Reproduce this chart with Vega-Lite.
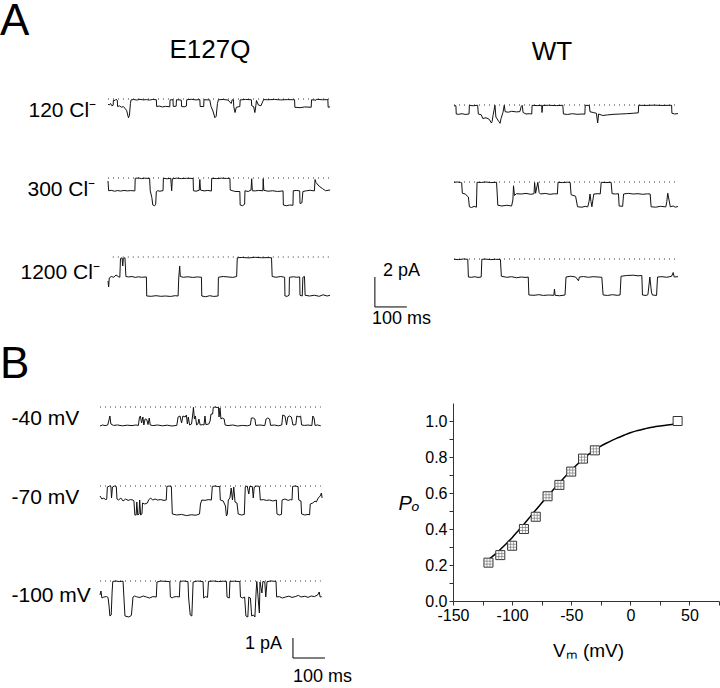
{
"$schema": "https://vega.github.io/schema/vega-lite/v6.json",
"padding": 0,
"spacing": 15,
"config": {"view": {"stroke": null}, "font": "Liberation Sans", "title": {"font": "Liberation Sans", "fontWeight": "normal", "color": "#000"}, "axis": {"labelFont": "Liberation Sans", "titleFont": "Liberation Sans", "titleFontWeight": "normal"}},
"resolve": {"scale": {"x": "independent", "y": "independent"}},
"datasets": {
"E120": [{"t":0,"v":-0.35},{"t":4,"v":-0.4},{"t":8,"v":-0.3},{"t":12,"v":-0.45},{"t":16,"v":-0.42},{"t":17,"v":-0.08},{"t":22,"v":-0.1},{"t":25,"v":-0.02},{"t":29,"v":-0.08},{"t":30,"v":-0.5},{"t":36,"v":-0.46},{"t":42,"v":-0.55},{"t":48,"v":-0.5},{"t":52,"v":-0.6},{"t":58,"v":-0.75},{"t":64,"v":-1.25},{"t":67,"v":-1.1},{"t":70,"v":-0.3},{"t":72,"v":-0.06},{"t":80,"v":-0.03},{"t":90,"v":-0.07},{"t":100,"v":-0.02},{"t":110,"v":-0.06},{"t":120,"v":-0.04},{"t":130,"v":-0.07},{"t":140,"v":-0.03},{"t":151,"v":-0.05},{"t":152,"v":-0.5},{"t":160,"v":-0.47},{"t":170,"v":-0.53},{"t":180,"v":-0.49},{"t":193,"v":-0.52},{"t":194,"v":-0.06},{"t":203,"v":-0.04},{"t":204,"v":-0.5},{"t":213,"v":-0.48},{"t":214,"v":-0.05},{"t":229,"v":-0.07},{"t":230,"v":-0.5},{"t":238,"v":-0.52},{"t":245,"v":-0.47},{"t":246,"v":-0.05},{"t":260,"v":-0.02},{"t":275,"v":-0.06},{"t":287,"v":-0.04},{"t":288,"v":-0.5},{"t":299,"v":-0.5},{"t":300,"v":-0.05},{"t":318,"v":-0.06},{"t":322,"v":-0.5},{"t":328,"v":-0.8},{"t":334,"v":-1.25},{"t":338,"v":-1.15},{"t":342,"v":-0.3},{"t":345,"v":-0.05},{"t":360,"v":-0.03},{"t":375,"v":-0.07},{"t":385,"v":-0.3},{"t":388,"v":-0.05},{"t":392,"v":-0.06},{"t":393,"v":-0.5},{"t":397,"v":-0.9},{"t":401,"v":-0.55},{"t":412,"v":-0.5},{"t":413,"v":-0.06},{"t":430,"v":-0.03},{"t":448,"v":-0.05},{"t":449,"v":-0.45},{"t":455,"v":-0.5},{"t":459,"v":-0.9},{"t":462,"v":-0.45},{"t":464,"v":-0.1},{"t":470,"v":-0.4},{"t":478,"v":-0.45},{"t":484,"v":-0.15},{"t":486,"v":-0.04},{"t":500,"v":-0.05},{"t":520,"v":-0.03},{"t":540,"v":-0.06},{"t":560,"v":-0.04},{"t":583,"v":-0.05},{"t":584,"v":-0.55},{"t":600,"v":-0.58},{"t":615,"v":-0.53},{"t":635,"v":-0.55},{"t":636,"v":-0.05},{"t":650,"v":-0.08},{"t":652,"v":-0.02},{"t":670,"v":-0.05},{"t":687,"v":-0.04},{"t":688,"v":-0.55},{"t":694,"v":-0.52}],
"E300": [{"t":0,"v":-0.2},{"t":2,"v":-0.85},{"t":10,"v":-0.82},{"t":20,"v":-0.88},{"t":30,"v":-0.84},{"t":40,"v":-0.87},{"t":50,"v":-0.83},{"t":60,"v":-0.86},{"t":70,"v":-0.84},{"t":84,"v":-0.86},{"t":85,"v":-0.02},{"t":95,"v":0},{"t":105,"v":-0.04},{"t":115,"v":-0.01},{"t":125,"v":-0.03},{"t":130,"v":-0.02},{"t":132,"v":-0.85},{"t":137,"v":-1.3},{"t":140,"v":-1.8},{"t":146,"v":-1.85},{"t":149,"v":-1.75},{"t":151,"v":-0.9},{"t":155,"v":-0.85},{"t":162,"v":-0.88},{"t":172,"v":-0.84},{"t":173,"v":-0.02},{"t":185,"v":-0.05},{"t":196,"v":-0.02},{"t":199,"v":-0.85},{"t":201,"v":-0.05},{"t":215,"v":-0.01},{"t":230,"v":-0.04},{"t":245,"v":-0.02},{"t":266,"v":-0.03},{"t":267,"v":-0.85},{"t":275,"v":-0.88},{"t":285,"v":-0.82},{"t":287,"v":-0.1},{"t":289,"v":-0.8},{"t":300,"v":-0.86},{"t":312,"v":-0.83},{"t":323,"v":-0.87},{"t":324,"v":-0.02},{"t":340,"v":-0.04},{"t":355,"v":-0.01},{"t":370,"v":-0.03},{"t":381,"v":-0.02},{"t":382,"v":-0.8},{"t":392,"v":-0.87},{"t":400,"v":-0.9},{"t":412,"v":-0.9},{"t":413,"v":-1.8},{"t":420,"v":-1.85},{"t":427,"v":-1.75},{"t":428,"v":-0.85},{"t":438,"v":-0.9},{"t":447,"v":-0.8},{"t":449,"v":-0.05},{"t":451,"v":-0.85},{"t":460,"v":-0.86},{"t":470,"v":-0.83},{"t":484,"v":-0.85},{"t":485,"v":-0.05},{"t":487,"v":-0.82},{"t":500,"v":-0.88},{"t":515,"v":-0.85},{"t":530,"v":-0.9},{"t":547,"v":-0.86},{"t":548,"v":-1.8},{"t":558,"v":-1.85},{"t":568,"v":-1.8},{"t":578,"v":-1.82},{"t":579,"v":-0.85},{"t":590,"v":-0.83},{"t":599,"v":-0.86},{"t":600,"v":-1.7},{"t":606,"v":-1.65},{"t":609,"v":-0.9},{"t":620,"v":-0.85},{"t":632,"v":-0.82},{"t":645,"v":-0.86},{"t":647,"v":-0.1},{"t":650,"v":-0.3},{"t":660,"v":-0.55},{"t":670,"v":-0.7},{"t":680,"v":-0.85},{"t":694,"v":-0.8}],
"E1200": [{"t":0,"v":-1.6},{"t":2,"v":-2.0},{"t":4,"v":-1.4},{"t":10,"v":-1.3},{"t":18,"v":-1.35},{"t":25,"v":-1.2},{"t":32,"v":-1.3},{"t":37,"v":-1.35},{"t":39,"v":-0.1},{"t":44,"v":-0.05},{"t":46,"v":-0.6},{"t":48,"v":-0.1},{"t":53,"v":-0.05},{"t":56,"v":-1.3},{"t":65,"v":-1.33},{"t":75,"v":-1.3},{"t":85,"v":-1.36},{"t":95,"v":-1.32},{"t":105,"v":-1.35},{"t":120,"v":-1.33},{"t":121,"v":-2.6},{"t":135,"v":-2.62},{"t":150,"v":-2.58},{"t":165,"v":-2.62},{"t":180,"v":-2.6},{"t":195,"v":-2.63},{"t":210,"v":-2.58},{"t":219,"v":-2.6},{"t":221,"v":-1.4},{"t":224,"v":-0.6},{"t":226,"v":-1.3},{"t":235,"v":-1.35},{"t":250,"v":-1.32},{"t":265,"v":-1.36},{"t":280,"v":-1.33},{"t":292,"v":-1.35},{"t":293,"v":-2.6},{"t":305,"v":-2.65},{"t":318,"v":-2.58},{"t":330,"v":-2.63},{"t":344,"v":-2.6},{"t":345,"v":-1.35},{"t":360,"v":-1.3},{"t":375,"v":-1.33},{"t":390,"v":-1.36},{"t":402,"v":-1.3},{"t":404,"v":-0.05},{"t":420,"v":-0.03},{"t":440,"v":-0.06},{"t":460,"v":-0.02},{"t":480,"v":-0.05},{"t":500,"v":-0.04},{"t":511,"v":-0.05},{"t":513,"v":-1.3},{"t":525,"v":-1.35},{"t":540,"v":-1.3},{"t":552,"v":-1.35},{"t":553,"v":-2.6},{"t":560,"v":-2.62},{"t":566,"v":-2.55},{"t":567,"v":-1.35},{"t":580,"v":-1.32},{"t":590,"v":-1.35},{"t":599,"v":-1.33},{"t":600,"v":-2.55},{"t":607,"v":-2.6},{"t":609,"v":-1.35},{"t":614,"v":-1.3},{"t":616,"v":-2.55},{"t":630,"v":-2.6},{"t":645,"v":-2.55},{"t":660,"v":-2.62},{"t":672,"v":-2.52},{"t":685,"v":-2.6},{"t":694,"v":-2.55}],
"W120": [{"t":0,"v":-0.05},{"t":6,"v":-0.05},{"t":7,"v":-0.6},{"t":15,"v":-0.62},{"t":25,"v":-0.58},{"t":35,"v":-0.63},{"t":47,"v":-0.6},{"t":48,"v":-0.02},{"t":60,"v":-0.05},{"t":74,"v":-0.02},{"t":76,"v":-0.6},{"t":85,"v":-0.65},{"t":90,"v":-0.9},{"t":100,"v":-0.85},{"t":110,"v":-0.95},{"t":117,"v":-1.2},{"t":119,"v":-1.1},{"t":122,"v":-0.7},{"t":128,"v":-0.02},{"t":131,"v":-0.8},{"t":140,"v":-1.1},{"t":144,"v":-1.22},{"t":147,"v":-0.9},{"t":153,"v":-0.5},{"t":157,"v":-0.02},{"t":160,"v":-0.45},{"t":170,"v":-0.48},{"t":180,"v":-0.42},{"t":195,"v":-0.46},{"t":206,"v":-0.44},{"t":210,"v":-0.1},{"t":213,"v":-0.02},{"t":216,"v":-0.5},{"t":225,"v":-0.6},{"t":235,"v":-0.58},{"t":243,"v":-0.6},{"t":244,"v":-0.02},{"t":260,"v":-0.04},{"t":274,"v":-0.02},{"t":275,"v":-0.5},{"t":277,"v":-0.03},{"t":295,"v":-0.02},{"t":320,"v":-0.04},{"t":340,"v":-0.02},{"t":342,"v":-0.6},{"t":355,"v":-0.63},{"t":370,"v":-0.58},{"t":385,"v":-0.62},{"t":400,"v":-0.6},{"t":409,"v":-0.61},{"t":410,"v":-0.02},{"t":423,"v":-0.03},{"t":425,"v":-0.45},{"t":435,"v":-0.5},{"t":445,"v":-0.55},{"t":449,"v":-1.2},{"t":452,"v":-0.6},{"t":465,"v":-0.7},{"t":480,"v":-0.66},{"t":500,"v":-0.62},{"t":520,"v":-0.6},{"t":540,"v":-0.58},{"t":560,"v":-0.55},{"t":576,"v":-0.52},{"t":577,"v":-0.02},{"t":600,"v":-0.03},{"t":625,"v":-0.01},{"t":650,"v":-0.03},{"t":680,"v":-0.02},{"t":681,"v":-0.55},{"t":690,"v":-0.6},{"t":700,"v":-0.57}],
"W300": [{"t":0,"v":-0.02},{"t":10,"v":0},{"t":20,"v":-0.03},{"t":24,"v":-0.05},{"t":26,"v":-0.75},{"t":35,"v":-0.8},{"t":45,"v":-1.0},{"t":48,"v":-1.65},{"t":55,"v":-1.7},{"t":63,"v":-1.62},{"t":70,"v":-1.68},{"t":72,"v":-0.02},{"t":85,"v":-0.03},{"t":100,"v":0},{"t":115,"v":-0.04},{"t":133,"v":-0.02},{"t":137,"v":-1.55},{"t":150,"v":-1.6},{"t":165,"v":-1.55},{"t":180,"v":-1.6},{"t":184,"v":-1.2},{"t":186,"v":-0.25},{"t":189,"v":-0.9},{"t":195,"v":-0.78},{"t":210,"v":-0.8},{"t":225,"v":-0.76},{"t":240,"v":-0.82},{"t":250,"v":-0.78},{"t":252,"v":-0.05},{"t":255,"v":-0.75},{"t":262,"v":-0.02},{"t":266,"v":-0.7},{"t":270,"v":-0.8},{"t":285,"v":-0.76},{"t":300,"v":-0.82},{"t":315,"v":-0.78},{"t":323,"v":-0.8},{"t":325,"v":-0.02},{"t":340,"v":-0.04},{"t":355,"v":-0.01},{"t":363,"v":-0.03},{"t":366,"v":-0.85},{"t":380,"v":-0.95},{"t":386,"v":-1.65},{"t":400,"v":-1.68},{"t":410,"v":-1.62},{"t":418,"v":-1.66},{"t":422,"v":-1.3},{"t":425,"v":-0.8},{"t":428,"v":-1.3},{"t":431,"v":-1.65},{"t":434,"v":-1.2},{"t":437,"v":-0.8},{"t":450,"v":-0.78},{"t":457,"v":-0.8},{"t":460,"v":-0.02},{"t":475,"v":-0.04},{"t":491,"v":-0.02},{"t":494,"v":-0.78},{"t":505,"v":-0.8},{"t":514,"v":-0.78},{"t":516,"v":-1.6},{"t":527,"v":-1.62},{"t":530,"v":-0.8},{"t":545,"v":-0.76},{"t":560,"v":-0.8},{"t":575,"v":-0.78},{"t":590,"v":-0.82},{"t":605,"v":-0.79},{"t":613,"v":-0.8},{"t":616,"v":-1.65},{"t":630,"v":-1.68},{"t":645,"v":-1.62},{"t":662,"v":-1.66},{"t":665,"v":-1.3},{"t":668,"v":-0.75},{"t":672,"v":-1.2},{"t":676,"v":-1.65},{"t":685,"v":-1.6},{"t":692,"v":-1.68},{"t":700,"v":-1.63}],
"W1200": [{"t":0,"v":-0.02},{"t":15,"v":-0.04},{"t":30,"v":0},{"t":43,"v":-0.02},{"t":45,"v":-1.2},{"t":55,"v":-1.22},{"t":65,"v":-1.18},{"t":75,"v":-1.23},{"t":85,"v":-1.2},{"t":87,"v":-0.02},{"t":100,"v":-0.01},{"t":115,"v":-0.04},{"t":130,"v":-0.02},{"t":145,"v":-0.03},{"t":148,"v":-1.15},{"t":165,"v":-1.22},{"t":180,"v":-1.18},{"t":195,"v":-1.25},{"t":210,"v":-1.2},{"t":225,"v":-1.23},{"t":232,"v":-1.2},{"t":234,"v":-2.4},{"t":250,"v":-2.42},{"t":265,"v":-2.38},{"t":280,"v":-2.43},{"t":295,"v":-2.4},{"t":312,"v":-2.42},{"t":314,"v":-2.0},{"t":316,"v":-2.42},{"t":330,"v":-2.45},{"t":347,"v":-2.4},{"t":350,"v":-1.2},{"t":365,"v":-1.15},{"t":380,"v":-1.2},{"t":389,"v":-1.45},{"t":392,"v":-1.2},{"t":405,"v":-1.17},{"t":420,"v":-1.22},{"t":435,"v":-1.18},{"t":450,"v":-1.2},{"t":462,"v":-1.22},{"t":466,"v":-2.4},{"t":480,"v":-2.43},{"t":495,"v":-2.38},{"t":510,"v":-2.42},{"t":519,"v":-2.4},{"t":522,"v":-1.15},{"t":540,"v":-1.1},{"t":560,"v":-1.08},{"t":575,"v":-1.12},{"t":587,"v":-1.1},{"t":589,"v":-2.4},{"t":600,"v":-2.43},{"t":606,"v":-2.38},{"t":609,"v":-1.8},{"t":612,"v":-1.2},{"t":617,"v":-2.2},{"t":620,"v":-2.4},{"t":633,"v":-2.43},{"t":636,"v":-1.2},{"t":650,"v":-1.18},{"t":665,"v":-1.22},{"t":680,"v":-1.15},{"t":685,"v":-0.9},{"t":688,"v":-1.2},{"t":700,"v":-1.18}],
"B40": [{"t":0,"v":-0.95},{"t":8,"v":-0.9},{"t":16,"v":-0.93},{"t":24,"v":-0.9},{"t":29,"v":-0.6},{"t":31,"v":-0.45},{"t":34,"v":-0.85},{"t":42,"v":-0.92},{"t":55,"v":-0.9},{"t":70,"v":-0.94},{"t":85,"v":-0.91},{"t":100,"v":-0.93},{"t":112,"v":-0.9},{"t":120,"v":-0.92},{"t":123,"v":-0.55},{"t":126,"v":-0.45},{"t":130,"v":-0.8},{"t":134,"v":-0.5},{"t":137,"v":-0.9},{"t":141,"v":-0.6},{"t":146,"v":-0.62},{"t":150,"v":-0.88},{"t":154,"v":-0.55},{"t":157,"v":-0.9},{"t":165,"v":-0.93},{"t":180,"v":-0.9},{"t":195,"v":-0.94},{"t":210,"v":-0.91},{"t":225,"v":-0.95},{"t":240,"v":-0.92},{"t":244,"v":-0.5},{"t":250,"v":-0.45},{"t":255,"v":-0.8},{"t":259,"v":-0.45},{"t":266,"v":-0.5},{"t":270,"v":-0.4},{"t":273,"v":-0.85},{"t":276,"v":-0.5},{"t":280,"v":-0.9},{"t":286,"v":-0.85},{"t":290,"v":-0.35},{"t":292,"v":-0.02},{"t":295,"v":-0.6},{"t":298,"v":-0.45},{"t":302,"v":-0.9},{"t":306,"v":-0.85},{"t":309,"v":-0.6},{"t":313,"v":-0.9},{"t":320,"v":-0.88},{"t":325,"v":-0.9},{"t":328,"v":-0.45},{"t":331,"v":-0.88},{"t":340,"v":-0.85},{"t":344,"v":-0.7},{"t":347,"v":-0.35},{"t":352,"v":-0.35},{"t":354,"v":-0.02},{"t":360,"v":0},{"t":366,"v":-0.03},{"t":370,"v":0},{"t":372,"v":-0.5},{"t":375,"v":-0.05},{"t":378,"v":-0.6},{"t":382,"v":-0.55},{"t":388,"v":-0.6},{"t":391,"v":-0.9},{"t":400,"v":-0.93},{"t":415,"v":-0.9},{"t":430,"v":-0.95},{"t":445,"v":-0.92},{"t":460,"v":-0.94},{"t":470,"v":-0.9},{"t":473,"v":-0.55},{"t":479,"v":-0.55},{"t":484,"v":-0.6},{"t":487,"v":-0.92},{"t":500,"v":-0.9},{"t":515,"v":-0.93},{"t":519,"v":-0.6},{"t":524,"v":-0.55},{"t":530,"v":-0.6},{"t":533,"v":-0.92},{"t":545,"v":-0.9},{"t":558,"v":-0.94},{"t":568,"v":-0.9},{"t":571,"v":-0.4},{"t":578,"v":-0.45},{"t":583,"v":-0.9},{"t":587,"v":-0.5},{"t":592,"v":-0.45},{"t":598,"v":-0.5},{"t":603,"v":-0.9},{"t":612,"v":-0.88},{"t":615,"v":-0.45},{"t":622,"v":-0.5},{"t":627,"v":-0.45},{"t":630,"v":-0.9},{"t":640,"v":-0.92},{"t":650,"v":-0.9},{"t":662,"v":-0.93},{"t":665,"v":-0.45},{"t":669,"v":-0.55},{"t":672,"v":-0.92},{"t":680,"v":-0.9},{"t":690,"v":-0.94}],
"B70": [{"t":0,"v":-0.5},{"t":6,"v":-0.65},{"t":12,"v":-0.6},{"t":18,"v":-0.7},{"t":21,"v":-0.65},{"t":23,"v":-0.05},{"t":30,"v":0},{"t":34,"v":-0.02},{"t":36,"v":-0.6},{"t":39,"v":-0.05},{"t":45,"v":0},{"t":51,"v":-0.03},{"t":53,"v":-0.65},{"t":58,"v":-0.7},{"t":65,"v":-0.6},{"t":72,"v":-0.75},{"t":80,"v":-0.65},{"t":88,"v":-0.72},{"t":95,"v":-0.68},{"t":103,"v":-0.7},{"t":106,"v":-0.75},{"t":109,"v":-1.45},{"t":113,"v":-1.45},{"t":115,"v":-0.8},{"t":118,"v":-1.45},{"t":122,"v":-1.4},{"t":124,"v":-0.7},{"t":127,"v":-1.45},{"t":131,"v":-1.4},{"t":133,"v":-0.85},{"t":140,"v":-0.9},{"t":148,"v":-0.85},{"t":152,"v":-0.7},{"t":158,"v":-0.6},{"t":165,"v":-0.7},{"t":172,"v":-0.65},{"t":180,"v":-0.7},{"t":190,"v":-0.68},{"t":200,"v":-0.72},{"t":207,"v":-0.7},{"t":209,"v":-0.02},{"t":216,"v":0},{"t":223,"v":-0.03},{"t":226,"v":-1.4},{"t":240,"v":-1.45},{"t":255,"v":-1.42},{"t":270,"v":-1.48},{"t":285,"v":-1.44},{"t":300,"v":-1.46},{"t":311,"v":-1.4},{"t":314,"v":-0.9},{"t":318,"v":-0.7},{"t":328,"v":-0.72},{"t":338,"v":-0.68},{"t":348,"v":-0.7},{"t":351,"v":-0.02},{"t":360,"v":0},{"t":368,"v":-0.03},{"t":374,"v":-0.02},{"t":376,"v":-0.7},{"t":385,"v":-0.75},{"t":392,"v":-1.0},{"t":395,"v":-1.5},{"t":398,"v":-1.4},{"t":401,"v":-0.7},{"t":406,"v":-0.6},{"t":410,"v":-0.1},{"t":414,"v":-0.7},{"t":418,"v":-0.05},{"t":422,"v":-0.8},{"t":428,"v":-0.85},{"t":432,"v":-1.4},{"t":442,"v":-1.45},{"t":451,"v":-1.42},{"t":454,"v":-0.05},{"t":460,"v":0},{"t":465,"v":-0.4},{"t":468,"v":-0.02},{"t":476,"v":-0.03},{"t":479,"v":-0.6},{"t":482,"v":-0.05},{"t":490,"v":0},{"t":498,"v":-0.02},{"t":501,"v":-0.7},{"t":510,"v":-0.68},{"t":520,"v":-0.72},{"t":530,"v":-0.7},{"t":540,"v":-0.75},{"t":551,"v":-0.7},{"t":553,"v":-1.4},{"t":560,"v":-1.45},{"t":567,"v":-1.42},{"t":569,"v":-0.7},{"t":578,"v":-0.65},{"t":588,"v":-0.72},{"t":595,"v":-0.68},{"t":600,"v":-0.7},{"t":602,"v":-0.02},{"t":610,"v":0},{"t":619,"v":-0.03},{"t":621,"v":-0.7},{"t":628,"v":-0.75},{"t":630,"v":-1.4},{"t":640,"v":-1.45},{"t":650,"v":-1.42},{"t":655,"v":-1.44},{"t":657,"v":-0.9},{"t":665,"v":-0.85},{"t":672,"v":-0.75},{"t":676,"v":-0.8},{"t":682,"v":-0.6},{"t":688,"v":-0.5},{"t":692,"v":-0.35},{"t":694,"v":-0.6}],
"B100": [{"t":0,"v":-0.7},{"t":3,"v":-0.5},{"t":6,"v":-0.85},{"t":12,"v":-0.8},{"t":20,"v":-0.78},{"t":25,"v":-0.82},{"t":28,"v":-1.2},{"t":31,"v":-1.75},{"t":35,"v":-1.7},{"t":38,"v":-0.5},{"t":40,"v":-0.02},{"t":50,"v":0},{"t":60,"v":-0.03},{"t":72,"v":-0.01},{"t":75,"v":-0.9},{"t":78,"v":-1.75},{"t":90,"v":-1.8},{"t":98,"v":-1.72},{"t":101,"v":-1.2},{"t":103,"v":-0.8},{"t":108,"v":-0.75},{"t":113,"v":-0.78},{"t":116,"v":-0.8},{"t":125,"v":-0.82},{"t":135,"v":-0.75},{"t":145,"v":-0.8},{"t":155,"v":-0.85},{"t":165,"v":-0.78},{"t":176,"v":-0.8},{"t":178,"v":-0.05},{"t":190,"v":0},{"t":205,"v":-0.02},{"t":218,"v":-0.03},{"t":220,"v":-0.8},{"t":226,"v":-0.85},{"t":229,"v":-0.8},{"t":240,"v":-0.78},{"t":248,"v":-0.8},{"t":250,"v":-0.02},{"t":262,"v":0},{"t":275,"v":-0.03},{"t":277,"v":-0.85},{"t":282,"v":-1.7},{"t":287,"v":-1.75},{"t":289,"v":-0.9},{"t":291,"v":-0.05},{"t":305,"v":0},{"t":322,"v":-0.03},{"t":324,"v":-0.85},{"t":330,"v":-0.78},{"t":336,"v":-0.82},{"t":339,"v":-0.02},{"t":355,"v":0},{"t":370,"v":-0.03},{"t":385,"v":-0.01},{"t":395,"v":-0.02},{"t":397,"v":-0.8},{"t":404,"v":-0.85},{"t":406,"v":-0.02},{"t":420,"v":-0.01},{"t":437,"v":-0.03},{"t":439,"v":-0.8},{"t":446,"v":-0.85},{"t":452,"v":-0.8},{"t":456,"v":-1.75},{"t":462,"v":-1.8},{"t":465,"v":-0.8},{"t":470,"v":-0.85},{"t":474,"v":-1.75},{"t":480,"v":-1.7},{"t":484,"v":-1.8},{"t":488,"v":-0.5},{"t":490,"v":-0.02},{"t":495,"v":-1.0},{"t":498,"v":-1.6},{"t":500,"v":-0.05},{"t":506,"v":-0.6},{"t":509,"v":-0.02},{"t":515,"v":-0.05},{"t":518,"v":-0.8},{"t":522,"v":-0.03},{"t":535,"v":0},{"t":550,"v":-0.02},{"t":552,"v":-0.8},{"t":560,"v":-0.78},{"t":570,"v":-0.85},{"t":580,"v":-0.8},{"t":590,"v":-0.76},{"t":600,"v":-0.82},{"t":610,"v":-0.78},{"t":620,"v":-0.72},{"t":628,"v":-0.8},{"t":640,"v":-0.76},{"t":650,"v":-0.82},{"t":660,"v":-0.75},{"t":670,"v":-0.78},{"t":680,"v":-0.7},{"t":685,"v":-0.55},{"t":688,"v":-0.8},{"t":693,"v":-0.78}],
"po": [{"V":-120,"Po":0.213},{"V":-110,"Po":0.255},{"V":-100,"Po":0.307},{"V":-90,"Po":0.4},{"V":-80,"Po":0.468},{"V":-70,"Po":0.582},{"V":-60,"Po":0.645},{"V":-50,"Po":0.719},{"V":-40,"Po":0.791},{"V":-30,"Po":0.837},{"V":40,"Po":1.0}],
"fit": [{"V":-120,"Po":0.23},{"V":-115,"Po":0.256},{"V":-110,"Po":0.286},{"V":-105,"Po":0.318},{"V":-100,"Po":0.352},{"V":-95,"Po":0.389},{"V":-90,"Po":0.427},{"V":-85,"Po":0.466},{"V":-80,"Po":0.505},{"V":-75,"Po":0.544},{"V":-70,"Po":0.582},{"V":-65,"Po":0.619},{"V":-60,"Po":0.655},{"V":-55,"Po":0.692},{"V":-50,"Po":0.726},{"V":-45,"Po":0.758},{"V":-40,"Po":0.79},{"V":-35,"Po":0.816},{"V":-30,"Po":0.84},{"V":-25,"Po":0.86},{"V":-20,"Po":0.878},{"V":-15,"Po":0.894},{"V":-10,"Po":0.908},{"V":-5,"Po":0.922},{"V":0,"Po":0.935},{"V":5,"Po":0.945},{"V":10,"Po":0.953},{"V":15,"Po":0.961},{"V":20,"Po":0.967},{"V":25,"Po":0.972},{"V":30,"Po":0.977},{"V":35,"Po":0.981},{"V":40,"Po":0.985}]
},
"vconcat": [
{
"title": {"text": "A", "anchor": "start", "frame": "group", "fontSize": 44, "baseline": "top", "offset": -7, "dx": -100},
"spacing": 21,
"resolve": {"scale": {"x": "independent", "y": "independent"}},
"hconcat": [
{
"bounds": "flush",
"spacing": 34,
"resolve": {"scale": {"x": "independent", "y": "independent"}},
"vconcat": [
{
"width": 224, "height": 45,
"title": {"text": "E127Q", "fontSize": 26, "anchor": "middle", "frame": "group", "baseline": "middle", "offset": 17, "dx": -2},
"encoding": {
"x": {"field": "t", "type": "quantitative", "scale": {"domain": [-25, 675], "nice": false, "zero": false}, "axis": null},
"y": {"field": "v", "type": "quantitative", "scale": {"domain": [-2.6, 0.4], "nice": false, "zero": false}, "axis": {"domain": false, "ticks": false, "labels": false, "grid": false, "title": "120 Cl⁻", "titleAngle": 0, "titleAlign": "left", "titleBaseline": "middle", "titleX": -72, "titleY": 17, "titleFontSize": 21, "titleColor": "#000"}}
},
"layer": [
{"data": {"values": [{"t": 0, "t2": 695, "v": 0}]}, "mark": {"type": "rule", "strokeDash": [1, 4], "color": "#333", "strokeWidth": 1}, "encoding": {"x2": {"field": "t2"}}},
{"data": {"name": "E120"}, "mark": {"type": "line", "color": "#111", "strokeWidth": 1}}
]
},
{
"width": 224, "height": 45,
"encoding": {
"x": {"field": "t", "type": "quantitative", "scale": {"domain": [-25, 675], "nice": false, "zero": false}, "axis": null},
"y": {"field": "v", "type": "quantitative", "scale": {"domain": [-2.6, 0.4], "nice": false, "zero": false}, "axis": {"domain": false, "ticks": false, "labels": false, "grid": false, "title": "300 Cl⁻", "titleAngle": 0, "titleAlign": "left", "titleBaseline": "middle", "titleX": -73, "titleY": 17, "titleFontSize": 21, "titleColor": "#000"}}
},
"layer": [
{"data": {"values": [{"t": 0, "t2": 695, "v": 0}]}, "mark": {"type": "rule", "strokeDash": [1, 4], "color": "#333", "strokeWidth": 1}, "encoding": {"x2": {"field": "t2"}}},
{"data": {"name": "E300"}, "mark": {"type": "line", "color": "#111", "strokeWidth": 1}}
]
},
{
"width": 224, "height": 45,
"encoding": {
"x": {"field": "t", "type": "quantitative", "scale": {"domain": [-25, 675], "nice": false, "zero": false}, "axis": null},
"y": {"field": "v", "type": "quantitative", "scale": {"domain": [-2.6, 0.4], "nice": false, "zero": false}, "axis": {"domain": false, "ticks": false, "labels": false, "grid": false, "title": "1200 Cl⁻", "titleAngle": 0, "titleAlign": "left", "titleBaseline": "middle", "titleX": -80, "titleY": 21, "titleFontSize": 21, "titleColor": "#000"}}
},
"layer": [
{"data": {"values": [{"t": 15, "t2": 700, "v": 0}]}, "mark": {"type": "rule", "strokeDash": [1, 4], "color": "#333", "strokeWidth": 1}, "encoding": {"x2": {"field": "t2"}}},
{"data": {"name": "E1200"}, "mark": {"type": "line", "color": "#111", "strokeWidth": 1}},
{"data": {"values": [{"t": 834, "v": -1.33, "o": 1}, {"t": 834, "v": -3.33, "o": 2}, {"t": 934, "v": -3.33, "o": 3}]}, "mark": {"type": "line", "color": "#000", "strokeWidth": 1}, "encoding": {"order": {"field": "o", "type": "quantitative"}}},
{"data": {"values": [{"t": 834, "v": -1.33}]}, "mark": {"type": "text", "text": "2 pA", "font": "Liberation Sans", "fontSize": 18, "align": "left", "baseline": "middle", "dx": 8, "dy": -6, "color": "#000"}},
{"data": {"values": [{"t": 834, "v": -3.33}]}, "mark": {"type": "text", "text": "100 ms", "font": "Liberation Sans", "fontSize": 18, "align": "left", "baseline": "middle", "dx": -3, "dy": 12, "color": "#000"}}
]
}
]
},
{
"bounds": "flush",
"spacing": 29,
"resolve": {"scale": {"x": "independent", "y": "independent"}},
"vconcat": [
{
"width": 224, "height": 48,
"title": {"text": "WT", "fontSize": 26, "anchor": "middle", "frame": "group", "baseline": "middle", "offset": 15, "dx": -14},
"encoding": {
"x": {"field": "t", "type": "quantitative", "scale": {"domain": [0, 700], "nice": false, "zero": false}, "axis": null},
"y": {"field": "v", "type": "quantitative", "scale": {"domain": [-2.4, 0.8], "nice": false, "zero": false}, "axis": null}
},
"layer": [
{"data": {"values": [{"t": 0, "t2": 700, "v": 0}]}, "mark": {"type": "rule", "strokeDash": [1, 4], "color": "#333", "strokeWidth": 1}, "encoding": {"x2": {"field": "t2"}}},
{"data": {"name": "W120"}, "mark": {"type": "line", "color": "#111", "strokeWidth": 1}}
]
},
{
"width": 224, "height": 48,
"encoding": {
"x": {"field": "t", "type": "quantitative", "scale": {"domain": [0, 700], "nice": false, "zero": false}, "axis": null},
"y": {"field": "v", "type": "quantitative", "scale": {"domain": [-2.4, 0.8], "nice": false, "zero": false}, "axis": null}
},
"layer": [
{"data": {"values": [{"t": 0, "t2": 700, "v": 0}]}, "mark": {"type": "rule", "strokeDash": [1, 4], "color": "#333", "strokeWidth": 1}, "encoding": {"x2": {"field": "t2"}}},
{"data": {"name": "W300"}, "mark": {"type": "line", "color": "#111", "strokeWidth": 1}}
]
},
{
"width": 224, "height": 48,
"encoding": {
"x": {"field": "t", "type": "quantitative", "scale": {"domain": [0, 700], "nice": false, "zero": false}, "axis": null},
"y": {"field": "v", "type": "quantitative", "scale": {"domain": [-2.4, 0.8], "nice": false, "zero": false}, "axis": null}
},
"layer": [
{"data": {"values": [{"t": 0, "t2": 700, "v": 0}]}, "mark": {"type": "rule", "strokeDash": [1, 4], "color": "#333", "strokeWidth": 1}, "encoding": {"x2": {"field": "t2"}}},
{"data": {"name": "W1200"}, "mark": {"type": "line", "color": "#111", "strokeWidth": 1}}
]
}
]
}
]
},
{
"title": {"text": "B", "anchor": "start", "frame": "group", "fontSize": 44, "baseline": "top", "offset": 16, "dx": -100},
"spacing": 46,
"resolve": {"scale": {"x": "independent", "y": "independent"}},
"hconcat": [
{
"bounds": "flush",
"spacing": 24,
"resolve": {"scale": {"x": "independent", "y": "independent"}},
"vconcat": [
{
"width": 224, "height": 60,
"encoding": {
"x": {"field": "t", "type": "quantitative", "scale": {"domain": [0, 700], "nice": false, "zero": false}, "axis": null},
"y": {"field": "v", "type": "quantitative", "scale": {"domain": [-2.8, 0.2], "nice": false, "zero": false}, "axis": {"domain": false, "ticks": false, "labels": false, "grid": false, "title": "-40 mV", "titleAngle": 0, "titleAlign": "left", "titleBaseline": "middle", "titleX": -89, "titleY": 15, "titleFontSize": 21, "titleColor": "#000"}}
},
"layer": [
{"data": {"values": [{"t": 0, "t2": 690, "v": 0}]}, "mark": {"type": "rule", "strokeDash": [1, 4], "color": "#333", "strokeWidth": 1}, "encoding": {"x2": {"field": "t2"}}},
{"data": {"name": "B40"}, "mark": {"type": "line", "color": "#111", "strokeWidth": 1}}
]
},
{
"width": 224, "height": 60,
"encoding": {
"x": {"field": "t", "type": "quantitative", "scale": {"domain": [0, 700], "nice": false, "zero": false}, "axis": null},
"y": {"field": "v", "type": "quantitative", "scale": {"domain": [-3.05, -0.05], "nice": false, "zero": false}, "axis": {"domain": false, "ticks": false, "labels": false, "grid": false, "title": "-70 mV", "titleAngle": 0, "titleAlign": "left", "titleBaseline": "middle", "titleX": -89, "titleY": 10, "titleFontSize": 21, "titleColor": "#000"}}
},
"layer": [
{"data": {"values": [{"t": 0, "t2": 690, "v": 0}]}, "mark": {"type": "rule", "strokeDash": [1, 4], "color": "#333", "strokeWidth": 1}, "encoding": {"x2": {"field": "t2"}}},
{"data": {"name": "B70"}, "mark": {"type": "line", "color": "#111", "strokeWidth": 1}}
]
},
{
"width": 224, "height": 60,
"encoding": {
"x": {"field": "t", "type": "quantitative", "scale": {"domain": [0, 700], "nice": false, "zero": false}, "axis": null},
"y": {"field": "v", "type": "quantitative", "scale": {"domain": [-2.5, 0.5], "nice": false, "zero": false}, "axis": {"domain": false, "ticks": false, "labels": false, "grid": false, "title": "-100 mV", "titleAngle": 0, "titleAlign": "left", "titleBaseline": "middle", "titleX": -89, "titleY": 24, "titleFontSize": 21, "titleColor": "#000"}}
},
"layer": [
{"data": {"values": [{"t": 0, "t2": 690, "v": 0}]}, "mark": {"type": "rule", "strokeDash": [1, 4], "color": "#333", "strokeWidth": 1}, "encoding": {"x2": {"field": "t2"}}},
{"data": {"name": "B100"}, "mark": {"type": "line", "color": "#111", "strokeWidth": 1}},
{"data": {"values": [{"t": 603, "v": -2.85, "o": 1}, {"t": 603, "v": -3.85, "o": 2}, {"t": 703, "v": -3.85, "o": 3}]}, "mark": {"type": "line", "color": "#000", "strokeWidth": 1}, "encoding": {"order": {"field": "o", "type": "quantitative"}}},
{"data": {"values": [{"t": 603, "v": -2.85}]}, "mark": {"type": "text", "text": "1 pA", "font": "Liberation Sans", "fontSize": 18, "align": "right", "baseline": "middle", "dx": -11, "dy": 6, "color": "#000"}},
{"data": {"values": [{"t": 603, "v": -3.85}]}, "mark": {"type": "text", "text": "100 ms", "font": "Liberation Sans", "fontSize": 18, "align": "left", "baseline": "middle", "dx": 0, "dy": 19, "color": "#000"}}
]
}
]
},
{
"width": 266, "height": 198,
"encoding": {
"x": {"field": "V", "type": "quantitative", "scale": {"domain": [-150, 75], "nice": false, "zero": false},
 "axis": {"values": [-150, -125, -100, -75, -50, -25, 0, 25, 50, 75], "labelExpr": "datum.value % 50 === 0 ? '' + datum.value : ''", "labelFlush": false, "labelOverlap": false, "grid": false, "tickSize": 4, "tickColor": "#333", "domainColor": "#333", "labelFontSize": 16, "labelColor": "#000", "labelPadding": 2, "title": "Vₘ (mV)", "titleFontSize": 19, "titleColor": "#000", "titleX": 135, "titleY": 49, "titleAlign": "center", "titleBaseline": "middle"}},
"y": {"field": "Po", "type": "quantitative", "scale": {"domain": [0, 1.1], "nice": false, "zero": false},
 "axis": {"values": [0, 0.1, 0.2, 0.3, 0.4, 0.5, 0.6, 0.7, 0.8, 0.9, 1.0], "labelExpr": "round(datum.value * 10) % 2 === 0 ? format(datum.value, '.1f') : ''", "labelOverlap": false, "grid": false, "tickSize": 4, "tickColor": "#333", "domainColor": "#333", "labelFontSize": 16, "labelColor": "#000", "labelPadding": 2, "title": "Pₒ", "titleFontSize": 20, "titleFontStyle": "italic", "titleColor": "#000", "titleAngle": 0, "titleX": -55, "titleY": 100, "titleAlign": "left", "titleBaseline": "middle"}}
},
"layer": [
{"data": {"name": "fit"}, "mark": {"type": "line", "color": "#000", "strokeWidth": 1.5, "interpolate": "monotone"}},
{"data": {"name": "po"}, "mark": {"type": "point", "shape": "square", "size": 81, "filled": false, "fill": "#fff", "fillOpacity": 1, "stroke": "#333", "strokeWidth": 1, "opacity": 1}},
{"data": {"name": "po"}, "transform": [{"filter": "datum.V < 0"}], "mark": {"type": "point", "shape": "M-0.33,-1V1M0.33,-1V1M-1,-0.33H1M-1,0.33H1", "size": 81, "filled": false, "stroke": "#777", "strokeWidth": 0.7, "opacity": 1}}
]
}
]
}
]
}
